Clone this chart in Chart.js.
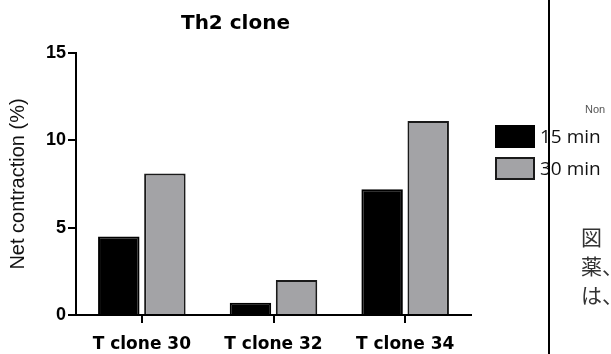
<!DOCTYPE html>
<html>
<head>
<meta charset="utf-8">
<script src="https://cdn.jsdelivr.net/npm/chart.js@4"></script>
<style>
  html, body { margin:0; padding:0; background:#fff; }
  #wrap { position:relative; width:611px; height:354px; overflow:hidden; }
  #chart { position:absolute; left:0; top:0; }
  .box { position:absolute; left:495px; width:36px; height:19px; border:2px solid #000; }
  .lbl { position:absolute; left:540px; font:19px "Open Sans", sans-serif; color:#111; line-height:1; white-space:nowrap; }
  #vline { position:absolute; left:548px; top:0; width:2px; height:354px; background:#000; }
  #non { position:absolute; left:585px; top:103px; font:11px "Liberation Sans", sans-serif; color:#555; }
  .jp { position:absolute; left:581px; font:21px "Noto Sans CJK JP", serif; color:#333; line-height:1; white-space:nowrap; }
</style>
</head>
<body>
<div id="wrap">
  <canvas id="chart" width="611" height="354"></canvas>
  <div id="non">Non</div>
  <div class="box" style="top:125px;background:#000;"></div>
  <div class="box" style="top:157px;background:#a3a3a6;border-color:#1a1a1a;"></div>
  <div class="lbl" style="top:127px;">15 min</div>
  <div class="lbl" style="top:159px;">30 min</div>
  <div class="jp" style="top:226px;">図</div>
  <div class="jp" style="top:255px;">薬、</div>
  <div class="jp" style="top:284px;">は、</div>
  <div id="vline"></div>
</div>
<script>
const clones = ['T clone 30', 'T clone 32', 'T clone 34'];
const min15 = [4.5, 0.7, 7.2];
const min30 = [8.1, 2.0, 11.1];
const yTicks = [0, 5, 10, 15];

const ctx = document.getElementById('chart').getContext('2d');
new Chart(ctx, {
  type: 'bar',
  data: {
    labels: clones,
    datasets: [
      { label: '15 min', data: min15, backgroundColor: '#000', borderColor: '#000', borderWidth: 2 },
      { label: '30 min', data: min30, backgroundColor: '#a3a3a6', borderColor: '#1a1a1a', borderWidth: 2 }
    ]
  },
  options: {
    responsive: false,
    animation: false,
    categoryPercentage: 0.7,
    barPercentage: 0.9,
    layout: { padding: { top: 0, right: 140, left: 0, bottom: 0 } },
    plugins: {
      legend: { display: false },
      tooltip: { enabled: false },
      title: {
        display: true,
        text: 'Th2 clone',
        color: '#000',
        font: { family: 'DejaVu Sans', size: 20, weight: 'bold' },
        padding: { top: 12, bottom: 17 }
      }
    },
    scales: {
      x: {
        grid: { offset: false, drawOnChartArea: false, drawTicks: true, tickLength: 8, color: '#000', lineWidth: 2 },
        border: { color: '#000', width: 2 },
        ticks: { color: '#000', padding: 11, font: { family: 'DejaVu Sans', size: 17, weight: 'bold' } },
        afterFit: s => { s.height = 39; }
      },
      y: {
        min: 0, max: 15,
        afterBuildTicks: s => { s.ticks = yTicks.map(v => ({ value: v })); },
        grid: { drawOnChartArea: false, drawTicks: true, tickLength: 8, color: '#000', lineWidth: 2 },
        border: { color: '#000', width: 2 },
        ticks: { color: '#000', padding: 2, font: { family: 'Liberation Sans', size: 18, weight: 'bold' } },
        title: {
          display: true,
          text: 'Net contraction (%)',
          color: '#111',
          font: { family: 'Liberation Sans', size: 20 },
          padding: { top: 6, bottom: 4 }
        },
        afterFit: s => { s.width = 76; }
      }
    }
  }
});
</script>
</body>
</html>
